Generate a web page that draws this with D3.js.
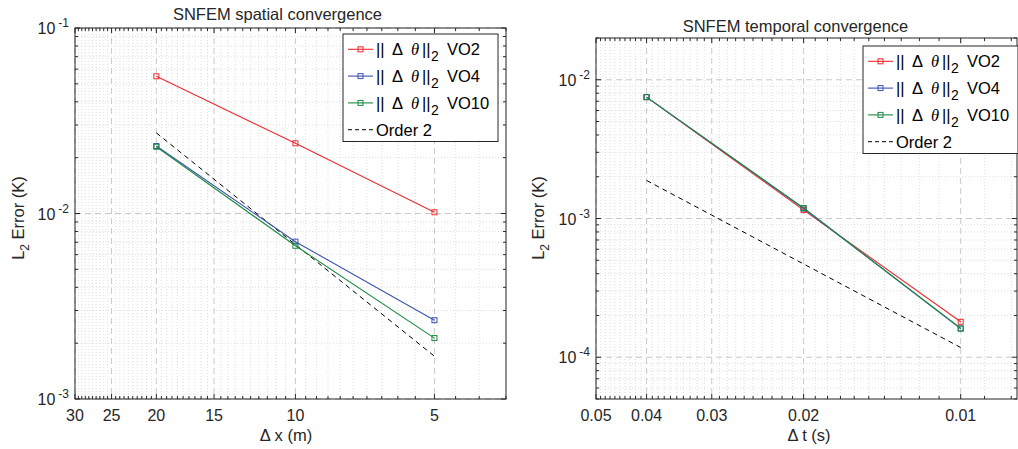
<!DOCTYPE html>
<html><head><meta charset="utf-8">
<script src="https://cdn.jsdelivr.net/npm/d3@7"></script>
<style>
html,body{margin:0;padding:0;background:#fff;}
svg{display:block;font-family:"Liberation Sans",Arial,Helvetica,sans-serif;}
</style></head>
<body><svg id="chart" width="1018" height="449"></svg>
<script>
// ---------- data ----------
const spatialDx      = [20, 10, 5];
const spatialVO2     = [0.0549, 0.0239, 0.01015];
const spatialVO4     = [0.0231, 0.00705, 0.00266];
const spatialVO10    = [0.0229, 0.0067, 0.00213];
const spatialOrder2  = [0.0272, 0.0068, 0.0017];

const temporalDt     = [0.04, 0.02, 0.01];
const temporalVO2    = [0.0075, 0.00115, 0.00018];
const temporalVO4    = [0.0075, 0.00118, 0.000161];
const temporalVO10   = [0.0075, 0.00119, 0.000161];
const temporalOrder2 = [0.00188, 0.00047, 0.0001175];

const spatialXTicks  = [30, 25, 20, 15, 10, 5];
const temporalXTicks = [0.05, 0.04, 0.03, 0.02, 0.01];
const spatialXTickLabels  = ["30", "25", "20", "15", "10", "5"];
const temporalXTickLabels = ["0.05", "0.04", "0.03", "0.02", "0.01"];
const spatialYTicks  = [1e-3, 1e-2, 1e-1];
const temporalYTicks = [1e-4, 1e-3, 1e-2];
const spatialYTickExp  = ["-3", "-2", "-1"];
const temporalYTickExp = ["-4", "-3", "-2"];

const seriesNames  = ["VO2", "VO4", "VO10"];
const seriesColors = ["#f02a2e", "#3b52b0", "#1b8a42"];

// ---------- drawing ----------
const svg = d3.select("#chart");
svg.append("rect").attr("width",1018).attr("height",449).attr("fill","#fff");

const AX = "#262626";

function panel(cfg){
  const g = svg.append("g");
  const x = d3.scaleLog().domain(cfg.xDomain).range([cfg.left, cfg.right]);
  const y = d3.scaleLog().domain(cfg.yDomain).range([cfg.bottom, cfg.top]);
  const L = cfg.left, R = cfg.right, T = cfg.top, B = cfg.bottom;

  const xMinor = cfg.xMinor.filter(v => !cfg.xTicks.some(t => Math.abs(t - v) < 1e-9));
  const yMinor = [];
  const [y0, y1] = cfg.yDomain;
  for (let e = Math.floor(Math.log10(y0)); e <= Math.ceil(Math.log10(y1)); e++){
    for (let k = 2; k <= 9; k++){
      const v = k * Math.pow(10, e);
      if (v >= y0 * 0.9999 && v <= y1 * 1.0001) yMinor.push(v);
    }
  }

  // minor grid (dotted)
  g.append("g").selectAll("line").data(xMinor).join("line")
    .attr("x1", d => x(d)).attr("x2", d => x(d)).attr("y1", T).attr("y2", B)
    .attr("stroke", "#d6d6d6").attr("stroke-width", 0.8).attr("stroke-dasharray", "1,2");
  g.append("g").selectAll("line").data(yMinor).join("line")
    .attr("y1", d => y(d)).attr("y2", d => y(d)).attr("x1", L).attr("x2", R)
    .attr("stroke", "#d6d6d6").attr("stroke-width", 0.8).attr("stroke-dasharray", "1,2");
  // major grid (dashed)
  g.append("g").selectAll("line").data(cfg.xTicks).join("line")
    .attr("x1", d => x(d)).attr("x2", d => x(d)).attr("y1", T).attr("y2", B)
    .attr("stroke", "#c9c9c9").attr("stroke-width", 1).attr("stroke-dasharray", "6,4");
  g.append("g").selectAll("line").data(cfg.yTicks).join("line")
    .attr("y1", d => y(d)).attr("y2", d => y(d)).attr("x1", L).attr("x2", R)
    .attr("stroke", "#c9c9c9").attr("stroke-width", 1).attr("stroke-dasharray", "6,4");

  // ticks (inward, all sides)
  const tk = g.append("g").attr("stroke", AX).attr("stroke-width", 1);
  const xt = (vals, len) => {
    tk.append("g").selectAll("line").data(vals).join("line")
      .attr("x1", d => x(d)).attr("x2", d => x(d)).attr("y1", B).attr("y2", B - len);
    tk.append("g").selectAll("line").data(vals).join("line")
      .attr("x1", d => x(d)).attr("x2", d => x(d)).attr("y1", T).attr("y2", T + len);
  };
  const yt = (vals, len) => {
    tk.append("g").selectAll("line").data(vals).join("line")
      .attr("y1", d => y(d)).attr("y2", d => y(d)).attr("x1", L).attr("x2", L + len);
    tk.append("g").selectAll("line").data(vals).join("line")
      .attr("y1", d => y(d)).attr("y2", d => y(d)).attr("x1", R).attr("x2", R - len);
  };
  xt(cfg.xTicks, 5); xt(xMinor, 3); yt(cfg.yTicks, 5); yt(yMinor, 3);

  // box
  g.append("rect").attr("x", L).attr("y", T).attr("width", R - L).attr("height", B - T)
    .attr("fill", "none").attr("stroke", AX).attr("stroke-width", 1);

  // x tick labels
  g.append("g").selectAll("text").data(cfg.xTicks).join("text")
    .attr("x", d => x(d)).attr("y", B + 22).attr("text-anchor", "middle")
    .attr("font-size", 16).attr("fill", AX)
    .text((d, i) => cfg.xTickLabels[i]);
  // y tick labels 10^e
  const yl = g.append("g").selectAll("text").data(cfg.yTicks).join("text")
    .attr("x", L - 6).attr("y", d => y(d) + 6).attr("text-anchor", "end")
    .attr("fill", AX);
  yl.append("tspan").attr("font-size", 16).text("10");
  yl.append("tspan").attr("font-size", 12).attr("dx", 3).attr("dy", -7).text((d, i) => cfg.yTickExp[i]);

  // axis labels
  g.append("text").attr("x", cfg.xLabelX).attr("y", 441).attr("text-anchor", "middle")
    .attr("font-size", 16.5).attr("fill", AX).text(cfg.xLabel);
  const ylab = g.append("text").attr("transform", `translate(${cfg.yLabelX},218) rotate(-90)`)
    .attr("text-anchor", "middle").attr("font-size", 16.5).attr("fill", AX);
  ylab.append("tspan").text("L");
  ylab.append("tspan").attr("font-size", 12).attr("dy", 5).text("2");
  ylab.append("tspan").attr("dy", -5).text(" Error (K)");

  // title
  g.append("text").attr("x", cfg.titleX).attr("y", cfg.titleY).attr("text-anchor", "middle")
    .attr("font-size", 16.5).attr("fill", AX).text(cfg.title);

  // data
  const line = d3.line().x(d => x(d[0])).y(d => y(d[1]));
  const pts = vals => cfg.xData.map((xv, i) => [xv, vals[i]]);
  g.append("path").datum(pts(cfg.order2)).attr("d", line)
    .attr("fill", "none").attr("stroke", "#000").attr("stroke-width", 1).attr("stroke-dasharray", "5,4");
  cfg.series.forEach((vals, si) => {
    const p = pts(vals);
    g.append("path").datum(p).attr("d", line)
      .attr("fill", "none").attr("stroke", seriesColors[si]).attr("stroke-width", 1.1);
    g.append("g").selectAll("rect").data(p).join("rect")
      .attr("x", d => x(d[0]) - 2.5).attr("y", d => y(d[1]) - 2.5)
      .attr("width", 5).attr("height", 5)
      .attr("fill", "none").attr("stroke", seriesColors[si]).attr("stroke-width", 1);
  });

  // legend
  const lg = g.append("g").attr("transform", `translate(${cfg.legX},${cfg.legY})`);
  lg.append("rect").attr("x", 0).attr("y", 0).attr("width", 155).attr("height", 107.5)
    .attr("fill", "#fff").attr("stroke", AX).attr("stroke-width", 1);
  const rowY = i => 15.3 + i * 26.8;
  seriesNames.forEach((nm, i) => {
    const ry = rowY(i);
    lg.append("line").attr("x1", 5).attr("x2", 30).attr("y1", ry).attr("y2", ry)
      .attr("stroke", seriesColors[i]).attr("stroke-width", 1.1);
    lg.append("rect").attr("x", 15).attr("y", ry - 2.5).attr("width", 5).attr("height", 5)
      .attr("fill", "none").attr("stroke", seriesColors[i]);
    const t = lg.append("text").attr("x", 33).attr("y", ry + 6).attr("font-size", 16.5).attr("fill", "#000");
    t.append("tspan").text("||");
    t.append("tspan").attr("x", 49).text("Δ");
    t.append("tspan").attr("x", 68).attr("font-family", "'Liberation Serif','DejaVu Serif',serif")
      .attr("font-style", "italic").text("θ");
    t.append("tspan").attr("x", 79).text("||");
    t.append("tspan").attr("x", 88).attr("dy", 6).attr("font-size", 14).text("2");
    t.append("tspan").attr("x", 104).attr("dy", -6).text(nm);
  });
  const oy = rowY(3);
  lg.append("line").attr("x1", 5).attr("x2", 30).attr("y1", oy).attr("y2", oy)
    .attr("stroke", "#000").attr("stroke-width", 1).attr("stroke-dasharray", "4,3");
  lg.append("text").attr("x", 33).attr("y", oy + 6).attr("font-size", 16.5).attr("fill", "#000").text("Order 2");
}

panel({
  left: 75, right: 506, top: 28, bottom: 399,
  xDomain: [30, 3.5], yDomain: [1e-3, 1e-1],
  xTicks: spatialXTicks, xTickLabels: spatialXTickLabels,
  xMinor: d3.range(3.5, 30.001, 0.5),
  yTicks: spatialYTicks, yTickExp: spatialYTickExp,
  xLabel: "Δ x (m)", xLabelX: 286, yLabelX: 23.5,
  title: "SNFEM spatial convergence", titleX: 277.5, titleY: 20,
  xData: spatialDx, series: [spatialVO2, spatialVO4, spatialVO10], order2: spatialOrder2,
  legX: 343, legY: 34
});
panel({
  left: 596, right: 1017, top: 38, bottom: 399,
  xDomain: [0.05, 0.0078], yDomain: [5e-5, 2e-2],
  xTicks: temporalXTicks, xTickLabels: temporalXTickLabels,
  xMinor: d3.range(8, 50.5, 1).map(v => v / 1000),
  yTicks: temporalYTicks, yTickExp: temporalYTickExp,
  xLabel: "Δ t (s)", xLabelX: 809, yLabelX: 543.5,
  title: "SNFEM temporal convergence", titleX: 795.5, titleY: 32,
  xData: temporalDt, series: [temporalVO2, temporalVO4, temporalVO10], order2: temporalOrder2,
  legX: 863, legY: 46
});
</script></body></html>
